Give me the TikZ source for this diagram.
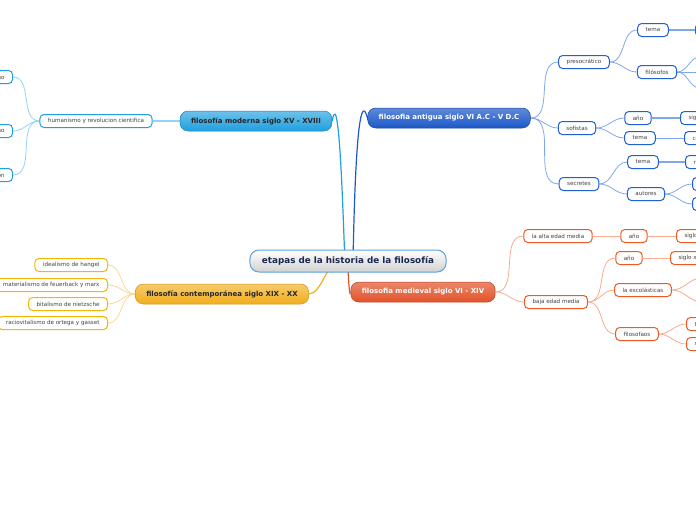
\documentclass[tikz,border=0pt]{standalone}
\usepackage{fontspec}
\setmainfont{DejaVu Sans}
\usetikzlibrary{calc}
\pgfdeclarelayer{bg}
\pgfsetlayers{bg,main}

\definecolor{rootline}{HTML}{5BA3DB}
\definecolor{roottext}{HTML}{1A2850}
\definecolor{antblue}{HTML}{1B58C8}
\definecolor{antleaf}{HTML}{1F60D4}
\definecolor{antlink}{HTML}{7FA8EC}
\definecolor{modblue}{HTML}{1EA0DF}
\definecolor{modleaf}{HTML}{1E9FE0}
\definecolor{modlink}{HTML}{93D4F4}
\definecolor{medred}{HTML}{E2532A}
\definecolor{medleaf}{HTML}{EE5A24}
\definecolor{medlink}{HTML}{F8AB90}
\definecolor{conyel}{HTML}{F2AE1C}
\definecolor{conleaf}{HTML}{F5B60A}
\definecolor{conlink}{HTML}{F9D895}

\begin{document}
\begin{tikzpicture}[
    x=1pt, y=-1pt,
    root/.style={draw=rootline, line width=1pt, rounded corners=9pt, top color=white, bottom color=black!18,
        minimum height=22pt, inner xsep=12pt, text=roottext, font=\fontsize{8.8}{10}\selectfont\bfseries},
    topic/.style={rounded corners=8pt, line width=0.5pt, minimum height=20pt, inner xsep=11pt,
        font=\fontsize{7}{8}\selectfont\bfseries},
    leaf/.style={draw, fill=white, rounded corners=4pt, line width=1pt, minimum height=13pt,
        inner xsep=8pt, inner ysep=0pt, text=black!75, font=\fontsize{5.6}{6}\selectfont},
    link/.style={line width=0.8pt},
    bar/.style={line width=1.8pt}
]
    \useasboundingbox (0,0) rectangle (696,520);
    \clip (0,0) rectangle (696,520);

    % centro
    \node[root] (root) at (348,261) {etapas de la historia de la filosofía};

    % filosofia antigua
    \node[topic, draw=antblue!80!black, top color=antblue!70!white, bottom color=antblue, text=white] (ant) at (449,118) {filosofia antigua siglo VI A.C - V D.C};
    \node[leaf, draw=antleaf] (pre) at (584,62) {presocrático};
    \node[leaf, draw=antleaf] (pretema) at (653,30) {tema};
    \node[leaf, draw=antleaf, anchor=west] (pretemaA) at (695,30) {arché};
    \node[leaf, draw=antleaf] (prefil) at (657,72) {filósofos};
    \coordinate (prefilA) at (700,57);
    \coordinate (prefilB) at (700,72);
    \coordinate (prefilC) at (700,88);
    \node[leaf, draw=antleaf] (sof) at (577,128) {sofistas};
    \node[leaf, draw=antleaf] (sofano) at (638,118) {año};
    \node[leaf, draw=antleaf, anchor=west] (sofanoA) at (680,118) {siglo V a.C};
    \node[leaf, draw=antleaf] (softema) at (640,138) {tema};
    \node[leaf, draw=antleaf, anchor=west] (softemaA) at (684,138) {conocimiento};
    \node[leaf, draw=antleaf] (sec) at (579,184) {secretes};
    \node[leaf, draw=antleaf] (sectema) at (643,162) {tema};
    \node[leaf, draw=antleaf, anchor=west] (sectemaA) at (685,162) {razón};
    \node[leaf, draw=antleaf] (secaut) at (646,194) {autores};
    \node[leaf, draw=antleaf, anchor=west] (secautA) at (692,184) {platón};
    \node[leaf, draw=antleaf, anchor=west] (secautB) at (692,204) {aristóteles};

    % filosofia moderna
    \node[topic, draw=modblue!80!black, top color=modblue!65!white, bottom color=modblue, text=black!85] (mod) at (256,121) {filosofía moderna siglo XV - XVIII};
    \node[leaf, draw=modleaf] (hum) at (96,121) {humanismo y revolucion cientifica};
    \node[leaf, draw=modleaf, anchor=east] (humA) at (13,77) {racionalismo};
    \node[leaf, draw=modleaf, anchor=east] (humB) at (13,131) {empirismo};
    \node[leaf, draw=modleaf, anchor=east] (humC) at (13,175) {ilustración};

    % filosofia medieval
    \node[topic, draw=medred!80!black, top color=medred!70!white, bottom color=medred, text=white] (med) at (423,292) {filosofia medieval siglo VI - XIV};
    \node[leaf, draw=medleaf] (alta) at (558,236) {la alta edad media};
    \node[leaf, draw=medleaf] (altaano) at (634,236) {año};
    \node[leaf, draw=medleaf, anchor=west] (altaanoA) at (676,236) {siglo V};
    \node[leaf, draw=medleaf] (baja) at (556,302) {baja edad media};
    \node[leaf, draw=medleaf] (bajaano) at (629,258) {año};
    \node[leaf, draw=medleaf, anchor=west] (bajaanoA) at (670,258) {siglo xi};
    \node[leaf, draw=medleaf] (esc) at (643,290) {la escolásticas};
    \coordinate (escA) at (702,278);
    \coordinate (escB) at (702,302);
    \node[leaf, draw=medleaf] (fil) at (637,334) {filosofaos};
    \node[leaf, draw=medleaf, anchor=west] (filA) at (686,324) {tomás};
    \node[leaf, draw=medleaf, anchor=west] (filB) at (686,344) {san agustín};

    % filosofia contemporanea
    \node[topic, draw=conyel!85!black, top color=conyel!65!white, bottom color=conyel, text=black!85] (con) at (222,294) {filosofía contemporánea siglo XIX - XX};
    \node[leaf, draw=conleaf, anchor=east] (conA) at (108,265) {idealismo de hangel};
    \node[leaf, draw=conleaf, anchor=east] (conB) at (108,285) {materialismo de feuerback y marx};
    \node[leaf, draw=conleaf, anchor=east] (conC) at (108,304) {bitalismo de nietzsche};
    \node[leaf, draw=conleaf, anchor=east] (conD) at (108,323) {raciovitalismo de ortega y gasset};

    \begin{pgfonlayer}{bg}
    % ramas del centro
    \draw[antblue, line width=1.2pt] ($(root.north)+(5,0)$) to[out=-90,in=105] (ant.west);
    \draw[modblue, line width=1.2pt] ($(root.north)+(-3,0)$) to[out=-90,in=80] (mod.east);
    \draw[medred, line width=1.2pt] (root.south) to[out=90,in=-100] (med.west);
    \draw[conyel, line width=1.2pt] ($(root.south)+(-16,0)$) to[out=110,in=0] (con.east);

    % antigua
    \draw[link, antlink] (ant.east) to[out=0,in=180] (pre.west);
    \draw[link, antlink] (ant.east) to[out=0,in=180] (sof.west);
    \draw[link, antlink] (ant.east) to[out=0,in=180] (sec.west);
    \draw[link, antlink] (pre.east) to[out=0,in=180] (pretema.west);
    \draw[link, antlink] (pre.east) to[out=0,in=180] (prefil.west);
    \draw[bar, antlink] (pretema) -- (pretemaA);
    \draw[link, antlink] (prefil.east) to[out=0,in=180] (prefilA);
    \draw[link, antlink] (prefil.east) -- (prefilB);
    \draw[link, antlink] (prefil.east) to[out=0,in=180] (prefilC);
    \draw[link, antlink] (sof.east) to[out=0,in=180] (sofano.west);
    \draw[link, antlink] (sof.east) to[out=0,in=180] (softema.west);
    \draw[bar, antlink] (sofano) -- (sofanoA);
    \draw[link, antlink] (softema) -- (softemaA);
    \draw[link, antlink] (sec.east) to[out=0,in=180] (sectema.west);
    \draw[link, antlink] (sec.east) to[out=0,in=180] (secaut.west);
    \draw[bar, antlink] (sectema) -- (sectemaA);
    \draw[link, antlink] (secaut.east) to[out=0,in=180] (secautA.west);
    \draw[link, antlink] (secaut.east) to[out=0,in=180] (secautB.west);

    % moderna
    \draw[bar, modlink] (mod) -- (hum);
    \draw[link, modlink] (hum.west) to[out=180,in=0] (humA.east);
    \draw[link, modlink] (hum.west) to[out=180,in=0] (humB.east);
    \draw[link, modlink] (hum.west) to[out=180,in=0] (humC.east);

    % medieval
    \draw[link, medlink] (med.east) to[out=0,in=180] (alta.west);
    \draw[link, medlink] (med.east) to[out=0,in=180] (baja.west);
    \draw[link, medlink] (alta) -- (altaano);
    \draw[link, medlink] (altaano) -- (altaanoA);
    \draw[link, medlink] (baja.east) to[out=0,in=180] (bajaano.west);
    \draw[link, medlink] (baja.east) to[out=0,in=180] (esc.west);
    \draw[link, medlink] (baja.east) to[out=0,in=180] (fil.west);
    \draw[link, medlink] (bajaano) -- (bajaanoA);
    \draw[link, medlink] (esc.east) to[out=0,in=180] (escA);
    \draw[link, medlink] (esc.east) to[out=0,in=180] (escB);
    \draw[link, medlink] (fil.east) to[out=0,in=180] (filA.west);
    \draw[link, medlink] (fil.east) to[out=0,in=180] (filB.west);

    % contemporanea
    \draw[link, conlink] (con.west) to[out=180,in=0] (conA.east);
    \draw[link, conlink] (con.west) to[out=180,in=0] (conB.east);
    \draw[link, conlink] (con.west) to[out=180,in=0] (conC.east);
    \draw[link, conlink] (con.west) to[out=180,in=0] (conD.east);
    \end{pgfonlayer}
\end{tikzpicture}
\end{document}
